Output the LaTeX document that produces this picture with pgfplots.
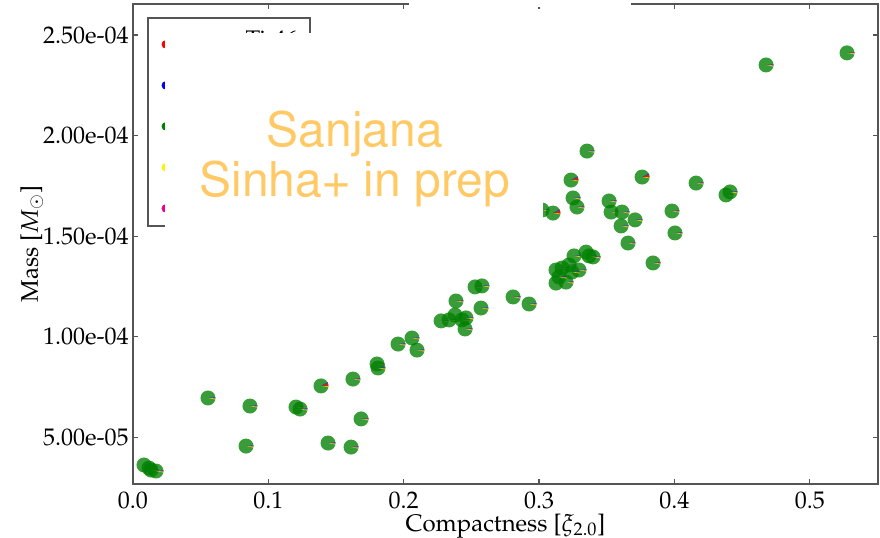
\documentclass[border=0pt]{standalone}
\usepackage[T1]{fontenc}
\usepackage{mathpazo}
\usepackage{helvet}
\usepackage{pgfplots}
\pgfplotsset{compat=1.18}

\definecolor{pgreen}{RGB}{0,128,0}
\definecolor{spine}{RGB}{85,85,85}
\definecolor{stamp}{RGB}{255,202,102}
\definecolor{pmag}{RGB}{230,0,230}
\definecolor{pblue}{RGB}{40,40,230}

\newcommand{\LabFont}{\fontsize{12bp}{14bp}\selectfont}

% pie marker: mostly green, thin yellow / magenta / blue slivers
\pgfdeclareplotmark{pieY}{%
  \pgfsetfillopacity{0.78}%
  \pgfpathcircle{\pgfpointorigin}{\pgfplotmarksize}%
  \pgfsetfillcolor{pgreen}\pgfusepath{fill}%
  \pgfpathmoveto{\pgfpointorigin}%
  \pgfpathlineto{\pgfpointpolar{-12}{\pgfplotmarksize}}%
  \pgfpatharc{-12}{-3}{\pgfplotmarksize}\pgfpathclose
  \pgfsetfillcolor{yellow}\pgfusepath{fill}%
  \pgfpathmoveto{\pgfpointorigin}%
  \pgfpathlineto{\pgfpointpolar{-3}{\pgfplotmarksize}}%
  \pgfpatharc{-3}{2}{\pgfplotmarksize}\pgfpathclose
  \pgfsetfillcolor{pmag}\pgfusepath{fill}%
  \pgfpathmoveto{\pgfpointorigin}%
  \pgfpathlineto{\pgfpointpolar{2}{\pgfplotmarksize}}%
  \pgfpatharc{2}{6}{\pgfplotmarksize}\pgfpathclose
  \pgfsetfillcolor{pblue}\pgfusepath{fill}%
}
% same with a wider red wedge
\pgfdeclareplotmark{pieR}{%
  \pgfsetfillopacity{0.78}%
  \pgfpathcircle{\pgfpointorigin}{\pgfplotmarksize}%
  \pgfsetfillcolor{pgreen}\pgfusepath{fill}%
  \pgfpathmoveto{\pgfpointorigin}%
  \pgfpathlineto{\pgfpointpolar{-10}{\pgfplotmarksize}}%
  \pgfpatharc{-10}{-2}{\pgfplotmarksize}\pgfpathclose
  \pgfsetfillcolor{yellow}\pgfusepath{fill}%
  \pgfpathmoveto{\pgfpointorigin}%
  \pgfpathlineto{\pgfpointpolar{-2}{\pgfplotmarksize}}%
  \pgfpatharc{-2}{22}{\pgfplotmarksize}\pgfpathclose
  \pgfsetfillcolor{red}\pgfusepath{fill}%
  \pgfpathmoveto{\pgfpointorigin}%
  \pgfpathlineto{\pgfpointpolar{22}{\pgfplotmarksize}}%
  \pgfpatharc{22}{30}{\pgfplotmarksize}\pgfpathclose
  \pgfsetfillcolor{pblue}\pgfusepath{fill}%
}

\pgfplotstableread{
x y
0.0081 3.63e-5
0.0118 3.48e-5
0.0133 3.38e-5
0.0170 3.33e-5
0.0554 6.96e-5
0.0864 6.56e-5
0.0835 4.57e-5
0.1204 6.51e-5
0.1234 6.41e-5
0.1441 4.72e-5
0.1611 4.52e-5
0.1625 7.90e-5
0.1685 5.92e-5
0.1803 8.65e-5
0.1810 8.45e-5
0.1958 9.64e-5
0.2061 9.94e-5
0.2098 9.34e-5
0.2276 1.079e-4
0.2335 1.084e-4
0.2379 1.108e-4
0.2386 1.178e-4
0.2431 1.084e-4
0.2460 1.094e-4
0.2453 1.039e-4
0.2527 1.248e-4
0.2578 1.253e-4
0.2571 1.143e-4
0.2808 1.198e-4
0.2926 1.163e-4
0.3125 1.332e-4
0.3170 1.342e-4
0.3221 1.357e-4
0.3295 1.332e-4
0.3125 1.267e-4
0.3199 1.272e-4
0.3147 1.297e-4
0.3243 1.322e-4
0.3258 1.402e-4
0.3347 1.421e-4
0.3369 1.402e-4
0.3399 1.397e-4
0.3354 1.923e-4
0.3251 1.690e-4
0.3280 1.645e-4
0.3022 1.630e-4
0.3517 1.675e-4
0.3532 1.620e-4
0.3613 1.620e-4
0.3709 1.581e-4
0.3606 1.551e-4
0.3657 1.466e-4
0.3842 1.367e-4
0.3982 1.625e-4
0.4004 1.516e-4
0.4160 1.764e-4
0.4381 1.705e-4
0.4411 1.720e-4
0.4677 2.351e-4
0.5275 2.411e-4
}\yellowpts

\pgfplotstableread{
x y
0.1389 7.56e-5
0.3103 1.615e-4
0.3236 1.779e-4
0.3761 1.794e-4
}\redpts

\begin{document}
\begin{tikzpicture}
% page = 880 x 538 px at 0.5bp per px
\path[use as bounding box] (-66.5bp,-27bp) rectangle (373.5bp,242bp);
\begin{axis}[
    scale only axis,
    width=372.5bp, height=240bp,
    xmin=0, xmax=0.5504,
    ymin=2.685e-5, ymax=2.654e-4,
    xtick={0,0.1,0.2,0.3,0.4,0.5},
    xticklabels={0.0,0.1,0.2,0.3,0.4,0.5},
    ytick={5e-5,1e-4,1.5e-4,2e-4,2.5e-4},
    yticklabels={5.00e-05,1.00e-04,1.50e-04,2.00e-04,2.50e-04},
    scaled x ticks=false, scaled y ticks=false,
    tick align=inside,
    major tick length=2.5bp,
    axis line style={draw=spine, line width=0.75bp},
    tick style={draw=spine, line width=0.6bp},
    ticklabel style={font=\LabFont},
    xticklabel style={inner sep=0pt, yshift=-3.5bp},
    yticklabel style={inner xsep=0pt, xshift=-2bp},
    label style={font=\LabFont, inner sep=0pt},
    xlabel={Compactness [$\xi_{2.0}$]},
    ylabel={Mass [$M_\odot$]},
    xlabel style={at={(axis description cs:0.5,-0.088)}, anchor=center},
    ylabel style={at={(axis description cs:-0.1358,0.5)}, anchor=center},
    legend image code/.code={\fill[#1] (0bp,0bp) circle (1.9bp);},
    legend style={
        at={(axis description cs:0.02013,0.97083)}, anchor=north west,
        draw=none, fill=none,
        inner xsep=6.6bp, inner ysep=8bp,
        row sep=10.5bp, column sep=4bp,
        font=\LabFont,
        nodes={inner sep=0pt, text height=8bp, text depth=2bp,
               text width=60bp, align=right}
    },
]
\addplot[only marks, mark=pieY, mark size=3.75bp, forget plot]
    table[x=x, y=y] {\yellowpts};
\addplot[only marks, mark=pieR, mark size=3.75bp, forget plot]
    table[x=x, y=y] {\redpts};
\addlegendimage{red}
\addlegendentry{\raisebox{1.3bp}{Ti-46}}
\addlegendimage{blue}
\addlegendentry{\phantom{Ti-46}}
\addlegendimage{pgreen}
\addlegendentry{\phantom{Ti-46}}
\addlegendimage{yellow}
\addlegendentry{\phantom{Ti-46}}
\addlegendimage{magenta}
\addlegendentry{\phantom{Ti-46}}
\end{axis}
% legend frame, cover sheets and stamp, in pixel units of the reference
\begin{scope}[x=0.5bp, y=-0.5bp, shift={(-66.5bp,242bp)}]
\draw[spine, line width=0.75bp] (148,18) rectangle (310,226);
\fill[white] (165,33) rectangle (543,230);
\fill[white] (409,-2) rectangle (631,7);
\node[anchor=base, text=stamp, inner sep=0pt,
      font=\fontsize{24bp}{25bp}\sffamily] at (355,147) {Sanjana};
\node[anchor=base, text=stamp, inner sep=0pt,
      font=\fontsize{24bp}{25bp}\sffamily] at (355,197) {Sinha+ in prep};
\end{scope}
\end{tikzpicture}
\end{document}
